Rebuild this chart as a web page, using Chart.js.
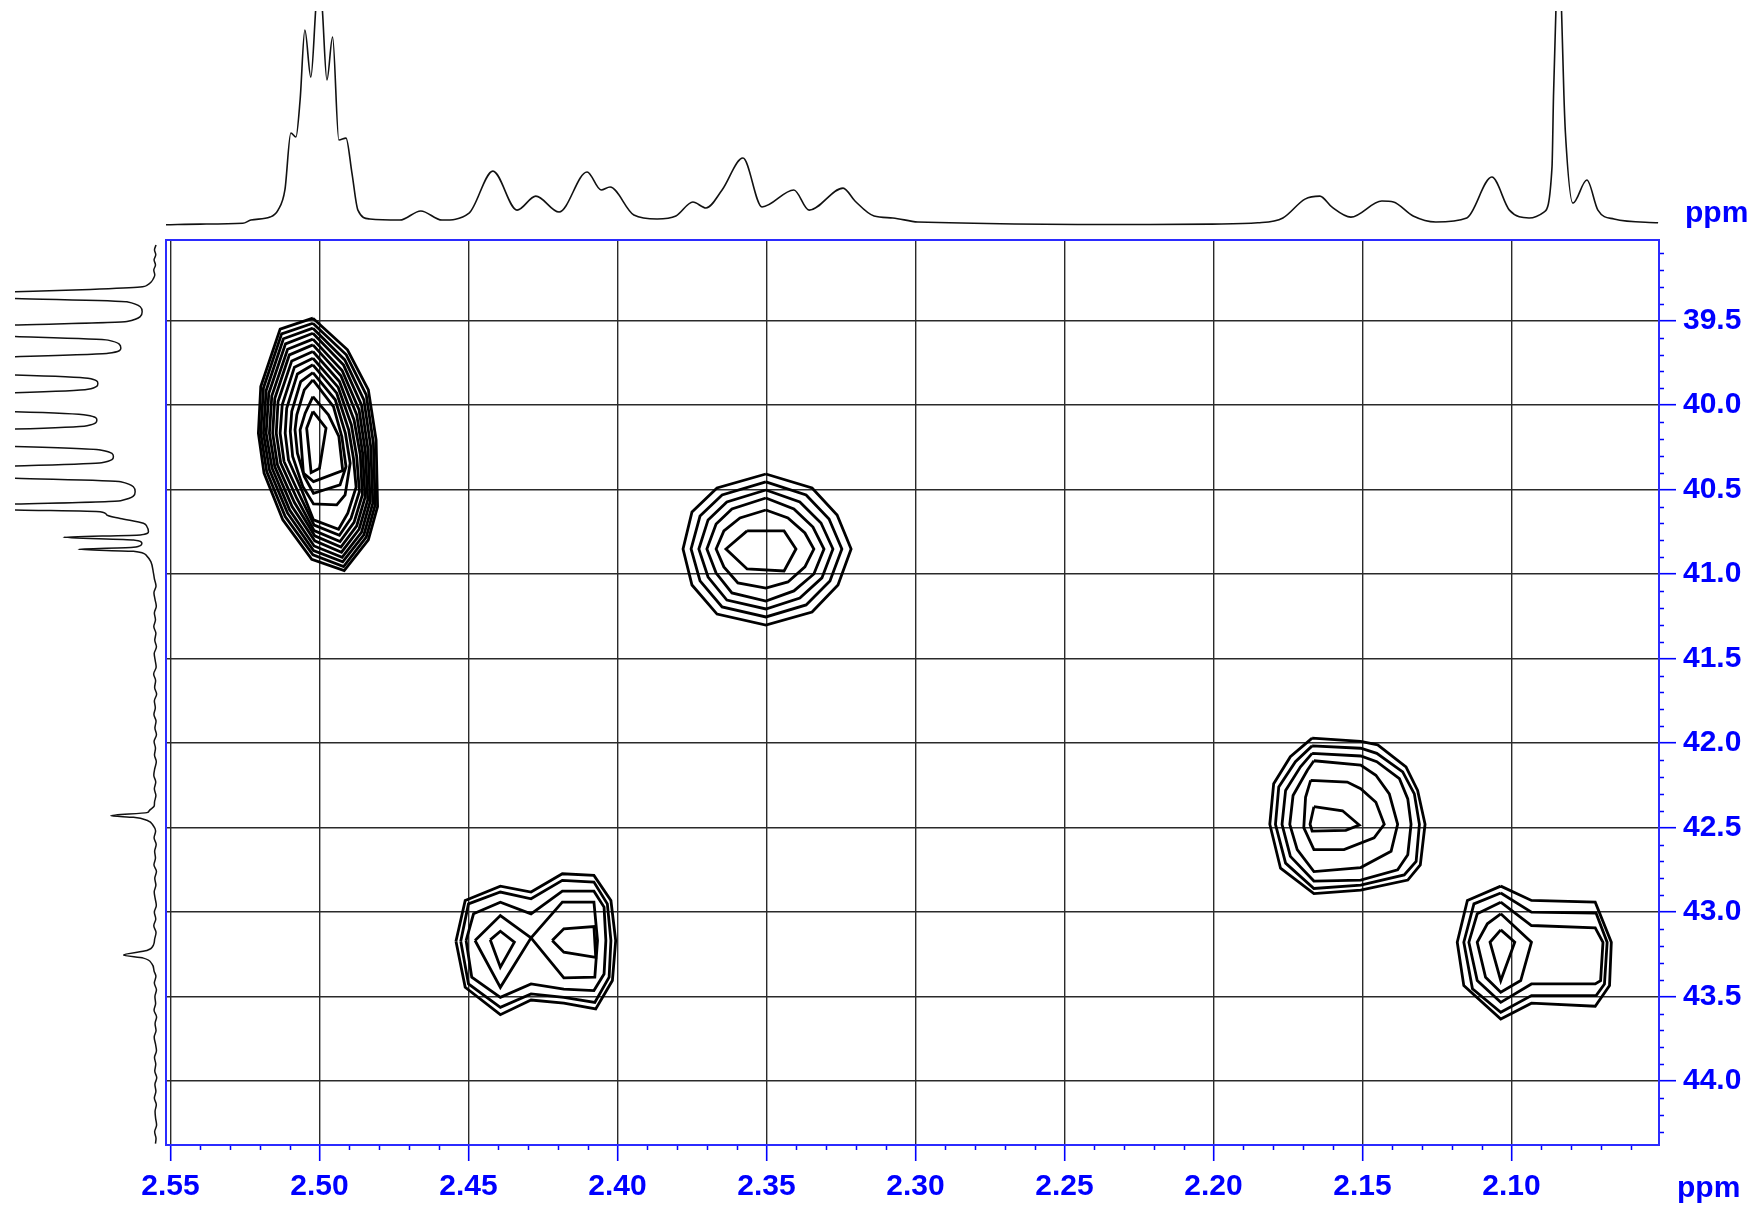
<!DOCTYPE html>
<html>
<head>
<meta charset="utf-8">
<title>HSQC 2.05-2.55 ppm</title>
<script src="https://cdn.jsdelivr.net/npm/chart.js@4.4.1/dist/chart.umd.min.js"></script>
<style>
html,body{margin:0;padding:0;background:#fff;}
#wrap{position:relative;width:1756px;height:1209px;overflow:hidden;}
canvas{position:absolute;left:0;top:0;}
.ppm{position:absolute;font:bold 30px "Liberation Sans",Arial,sans-serif;color:#0000ff;line-height:30px;}
</style>
</head>
<body>
<div id="wrap">
<canvas id="topSpec" width="1756" height="240"></canvas>
<canvas id="leftSpec" width="166" height="1209"></canvas>
<canvas id="main" width="1756" height="1209"></canvas>
<div class="ppm" style="left:1685px;top:197px">ppm</div>
<div class="ppm" style="left:1677px;top:1172px">ppm</div>
</div>
<script>
// axis ranges + ticks
const hMin=2.0505, hMax=2.5515;
const cMin=39.0224, cMax=44.378;
const hTicks=[2.55,2.50,2.45,2.40,2.35,2.30,2.25,2.20,2.15,2.10];
const cTicks=[39.5,40.0,40.5,41.0,41.5,42.0,42.5,43.0,43.5,44.0];

// 1H projection [ppm, intensity]
const protonTrace=[
[2.5515,-0.9],[2.5400,-0.6],[2.5257,-0.2],[2.5230,1.3],[2.5166,2.7],[2.5139,6.0],[2.5116,15.5],
[2.5096,42.4],[2.5079,40.5],[2.5065,58.0],[2.5049,91.0],[2.5029,68.8],[2.5013,100],[2.5002,125],
[2.4990,100],[2.4975,67.4],[2.4956,87.7],[2.4935,39.1],[2.4911,40.0],[2.4891,23.5],[2.4871,6.0],
[2.4831,1.8],[2.4730,1.3],[2.4660,5.6],[2.4589,1.3],[2.4498,4.6],[2.4418,24.4],[2.4337,6.0],
[2.4274,12.6],[2.4196,5.1],[2.4102,24.0],[2.4055,15.5],[2.4025,16.9],[2.3945,3.7],[2.3867,1.8],
[2.3804,3.2],[2.3747,9.8],[2.3703,7.0],[2.3649,15.5],[2.3579,30.6],[2.3515,7.5],[2.3408,15.5],
[2.3357,6.0],[2.3243,16.4],[2.3203,10.3],[2.3139,3.2],[2.3076,2.3],[2.2992,0.4],[2.2213,-0.8],
[2.2005,-0.6],[2.1851,0],[2.1767,2.3],[2.1693,11.2],[2.1643,12.6],[2.1603,7.5],[2.1539,2.7],
[2.1435,10.3],[2.1396,9.8],[2.1330,3.2],[2.1254,0.4],[2.1150,2.3],[2.1066,21.6],[2.1007,6.0],
[2.0941,2.3],[2.0891,5.1],[2.0864,26.4],[2.0859,60],[2.0851,100],[2.0842,160],[2.0832,100],
[2.0824,60],[2.0819,42.4],[2.0794,9.3],[2.0747,20.2],[2.0710,6.0],[2.0656,1.8],[2.0508,0]
];

// 13C projection [ppm, intensity]
const carbonTrace=[
[39.052,-0.6],[39.080,0.5],[39.110,-0.4],[39.140,0.8],[39.170,-0.2],[39.200,1.0],[39.230,0.3],[39.253,1.4],
[39.271,2.9],[39.289,5.7],[39.301,10.7],[39.315,46.4],[39.328,100],[39.348,190],[39.368,100],[39.388,20.2],
[39.447,9.3],[39.505,20.2],[39.525,100],[39.560,260],[39.594,100],[39.615,33.6],[39.663,24.5],[39.693,33.6],
[39.713,100],[39.767,400],[39.821,100],[39.841,48.0],[39.871,40.9],[39.906,48.0],[39.926,100],[39.982,450],
[40.039,100],[40.059,48.6],[40.088,41.6],[40.121,48.6],[40.141,100],[40.193,400],[40.245,100],[40.266,38.2],
[40.305,29.8],[40.340,38.2],[40.360,100],[40.397,260],[40.433,100],[40.453,24.6],[40.512,14.3],[40.565,24.6],
[40.585,100],[40.603,190],[40.620,100],[40.630,39.3],[40.650,34.5],[40.670,25.0],[40.699,8.4],[40.719,5.9],
[40.749,4.8],[40.768,10.7],[40.782,65.5],[40.798,15.5],[40.817,9.5],[40.841,15.5],[40.853,54.8],[40.865,15.5],
[40.893,5.9],[40.926,3.1],[40.995,1.2],
[41.03,0.5],[41.07,-0.6],[41.11,0.9],[41.15,0.1],[41.19,-0.8],[41.23,0.6],[41.27,-0.2],[41.31,1.0],[41.35,-0.5],
[41.39,0.3],[41.43,-0.9],[41.47,0.7],[41.51,0.0],[41.55,-0.7],[41.59,1.1],[41.63,-0.3],[41.67,0.4],[41.71,-1.0],
[41.75,0.6],[41.79,-0.1],[41.83,0.9],[41.87,-0.6],[41.91,0.2],[41.95,-0.9],[41.99,0.8],[42.03,-0.2],[42.07,0.5],
[42.11,-0.8],[42.15,0.3],[42.19,1.0],[42.23,-0.4],[42.27,0.6],[42.31,-0.5],[42.35,0.5],
[42.372,0.7],[42.400,4.3],[42.411,5.9],[42.429,31.6],[42.439,15.5],[42.456,5.9],[42.490,1.2],
[42.52,-0.3],[42.56,0.8],[42.60,-0.7],[42.64,0.4],[42.68,-0.2],[42.72,0.9],[42.76,-0.9],[42.80,0.3],[42.84,-0.5],
[42.88,0.7],[42.92,0.0],[42.96,-0.8],[43.00,0.6],[43.04,-0.4],[43.08,1.0],[43.12,-0.6],[43.16,0.4],
[43.193,1.2],[43.227,5.9],[43.254,22.6],[43.272,8.4],[43.306,2.4],[43.351,0.7],
[43.38,-0.5],[43.42,0.6],[43.46,-0.9],[43.50,0.2],[43.54,-0.3],[43.58,0.8],[43.62,-1.0],[43.66,0.1],[43.70,-0.6],
[43.74,0.7],[43.78,-0.2],[43.82,-0.9],[43.86,0.5],[43.90,-0.4],[43.94,0.3],[43.98,-1.1],[44.02,0.2],[44.06,-0.5],
[44.10,0.6],[44.14,-0.8],[44.18,0.1],[44.22,-0.3],[44.26,-1.0],[44.30,0.4],[44.34,-0.6],[44.370,-0.2]
];

// contour polygons [1H ppm, 13C ppm], outer to inner
const contoursA=[ // 2.50 / 40.2
[[2.5022,39.485],[2.4906,39.672],[2.4836,39.909],[2.4810,40.205],[2.4805,40.600],[2.4836,40.797],[2.4917,40.979],[2.5026,40.912],[2.5123,40.679],[2.5186,40.402],[2.5205,40.166],[2.5197,39.890],[2.5132,39.550]],
[[2.5022,39.515],[2.4910,39.702],[2.4843,39.939],[2.4819,40.225],[2.4813,40.590],[2.4843,40.781],[2.4919,40.955],[2.5022,40.886],[2.5115,40.659],[2.5177,40.393],[2.5197,40.166],[2.5188,39.899],[2.5127,39.578]],
[[2.5022,39.544],[2.4915,39.732],[2.4851,39.968],[2.4828,40.245],[2.4821,40.580],[2.4851,40.768],[2.4922,40.927],[2.5020,40.860],[2.5107,40.639],[2.5168,40.383],[2.5188,40.166],[2.5179,39.913],[2.5121,39.607]],
[[2.5022,39.574],[2.4919,39.763],[2.4859,39.998],[2.4837,40.264],[2.4830,40.570],[2.4859,40.752],[2.4924,40.900],[2.5018,40.833],[2.5100,40.620],[2.5159,40.373],[2.5179,40.166],[2.5170,39.929],[2.5114,39.637]],
[[2.5022,39.609],[2.4924,39.795],[2.4867,40.028],[2.4846,40.274],[2.4838,40.560],[2.4867,40.734],[2.4926,40.870],[2.5016,40.803],[2.5092,40.600],[2.5150,40.363],[2.5168,40.166],[2.5160,39.945],[2.5107,39.669]],
[[2.5022,39.643],[2.4928,39.826],[2.4875,40.057],[2.4855,40.284],[2.4847,40.545],[2.4875,40.714],[2.4928,40.840],[2.5016,40.773],[2.5084,40.576],[2.5141,40.353],[2.5157,40.166],[2.5150,39.961],[2.5101,39.702]],
[[2.5022,39.682],[2.4933,39.860],[2.4884,40.087],[2.4863,40.294],[2.4856,40.531],[2.4884,40.693],[2.4931,40.807],[2.5018,40.742],[2.5076,40.552],[2.5130,40.343],[2.5145,40.166],[2.5139,39.978],[2.5093,39.738]],
[[2.5022,39.722],[2.4937,39.895],[2.4893,40.116],[2.4875,40.304],[2.4866,40.511],[2.4894,40.669],[2.4933,40.770],[2.5018,40.710],[2.5068,40.527],[2.5119,40.333],[2.5132,40.166],[2.5125,39.998],[2.5084,39.775]],
[[2.5022,39.761],[2.4942,39.929],[2.4902,40.146],[2.4886,40.314],[2.4877,40.485],[2.4905,40.639],[2.4936,40.734],[2.5020,40.679],[2.5060,40.501],[2.5104,40.324],[2.5115,40.166],[2.5110,40.018],[2.5074,39.815]],
[[2.5022,39.807],[2.4947,39.968],[2.4913,40.166],[2.4897,40.343],[2.4914,40.531],[2.4942,40.590],[2.5020,40.584],[2.5056,40.481],[2.5090,40.304],[2.5098,40.156],[2.5093,40.037],[2.5063,39.860]],
[[2.5022,39.850],[2.4953,40.008],[2.4925,40.185],[2.4911,40.363],[2.4931,40.472],[2.5020,40.521],[2.5051,40.422],[2.5074,40.284],[2.5082,40.146],[2.5076,40.057],[2.5051,39.909]],
[[2.5022,39.949],[2.4970,40.057],[2.4935,40.185],[2.4922,40.387],[2.5020,40.452],[2.5054,40.402],[2.5065,40.146],[2.5048,40.047]],
[[2.5022,40.037],[2.4978,40.136],[2.5000,40.373],[2.5028,40.399],[2.5043,40.136]]
];
const contoursB=[ // 2.35 / 40.85
[[2.3502,40.407],[2.3347,40.490],[2.3263,40.650],[2.3216,40.851],[2.3260,41.064],[2.3347,41.224],[2.3502,41.301],[2.3666,41.236],[2.3750,41.064],[2.3780,40.851],[2.3750,40.632],[2.3666,40.490]],
[[2.3502,40.454],[2.3367,40.531],[2.3290,40.673],[2.3247,40.851],[2.3287,41.040],[2.3367,41.182],[2.3502,41.253],[2.3649,41.194],[2.3723,41.040],[2.3753,40.851],[2.3723,40.656],[2.3649,40.531]],
[[2.3502,40.502],[2.3388,40.573],[2.3317,40.697],[2.3277,40.851],[2.3314,41.022],[2.3388,41.141],[2.3502,41.206],[2.3633,41.153],[2.3696,41.017],[2.3727,40.851],[2.3696,40.679],[2.3633,40.573]],
[[2.3502,40.549],[2.3408,40.614],[2.3344,40.721],[2.3307,40.851],[2.3341,40.999],[2.3408,41.099],[2.3502,41.159],[2.3616,41.111],[2.3669,40.993],[2.3700,40.851],[2.3669,40.703],[2.3616,40.614]],
[[2.3502,40.620],[2.3428,40.667],[2.3371,40.756],[2.3341,40.851],[2.3371,40.957],[2.3428,41.046],[2.3502,41.082],[2.3596,41.052],[2.3643,40.957],[2.3669,40.851],[2.3643,40.744],[2.3589,40.667]],
[[2.3565,40.744],[2.3441,40.744],[2.3401,40.851],[2.3441,40.981],[2.3565,40.969],[2.3636,40.851]]
];
const contoursC=[ // 2.43 / 43.2
[[2.4542,43.172],[2.4511,42.931],[2.4393,42.846],[2.4290,42.881],[2.4185,42.773],[2.4079,42.783],[2.4022,42.931],[2.4006,43.168],[2.4017,43.405],[2.4073,43.573],[2.4180,43.539],[2.4290,43.520],[2.4393,43.607],[2.4511,43.445]],
[[2.4526,43.172],[2.4500,42.951],[2.4393,42.881],[2.4290,42.921],[2.4185,42.812],[2.4079,42.822],[2.4034,42.951],[2.4022,43.168],[2.4028,43.385],[2.4076,43.534],[2.4180,43.504],[2.4290,43.484],[2.4393,43.563],[2.4500,43.425]],
[[2.4508,43.168],[2.4483,43.010],[2.4393,42.941],[2.4290,43.010],[2.4185,42.876],[2.4079,42.876],[2.4045,42.970],[2.4039,43.168],[2.4045,43.366],[2.4079,43.464],[2.4180,43.455],[2.4290,43.425],[2.4393,43.504],[2.4489,43.385]],
[[2.4478,43.168],[2.4393,43.020],[2.4290,43.152],[2.4185,42.941],[2.4079,42.941],[2.4067,43.168],[2.4076,43.385],[2.4180,43.389],[2.4290,43.152],[2.4393,43.445]],
[[2.4427,43.164],[2.4393,43.113],[2.4346,43.178],[2.4393,43.326]],
[[2.4219,43.168],[2.4180,43.099],[2.4079,43.085],[2.4073,43.267],[2.4180,43.237]]
];
const contoursD=[ // 2.16 / 42.45
[[2.1669,41.970],[2.1506,41.990],[2.1449,42.010],[2.1354,42.140],[2.1315,42.280],[2.1290,42.480],[2.1306,42.720],[2.1348,42.810],[2.1506,42.870],[2.1663,42.890],[2.1775,42.740],[2.1811,42.480],[2.1798,42.240],[2.1742,42.080]],
[[2.1669,42.016],[2.1506,42.030],[2.1452,42.060],[2.1365,42.170],[2.1326,42.300],[2.1309,42.480],[2.1320,42.700],[2.1360,42.780],[2.1506,42.840],[2.1663,42.860],[2.1758,42.710],[2.1792,42.480],[2.1781,42.260],[2.1725,42.110]],
[[2.1669,42.060],[2.1506,42.076],[2.1452,42.110],[2.1376,42.210],[2.1348,42.330],[2.1337,42.480],[2.1348,42.660],[2.1382,42.750],[2.1506,42.810],[2.1663,42.816],[2.1742,42.670],[2.1770,42.480],[2.1758,42.280],[2.1708,42.140]],
[[2.1663,42.104],[2.1506,42.130],[2.1455,42.190],[2.1410,42.300],[2.1382,42.480],[2.1404,42.640],[2.1506,42.736],[2.1663,42.760],[2.1719,42.630],[2.1744,42.480],[2.1733,42.310],[2.1685,42.160]],
[[2.1674,42.220],[2.1551,42.230],[2.1506,42.270],[2.1455,42.350],[2.1427,42.480],[2.1461,42.560],[2.1562,42.630],[2.1663,42.630],[2.1697,42.500],[2.1691,42.320]],
[[2.1663,42.376],[2.1567,42.400],[2.1511,42.484],[2.1556,42.516],[2.1669,42.520],[2.1676,42.480]]
];
const contoursE=[ // 2.10 / 43.2
[[2.1036,42.846],[2.0933,42.931],[2.0719,42.941],[2.0665,43.178],[2.0671,43.435],[2.0719,43.557],[2.0933,43.539],[2.1036,43.632],[2.1160,43.435],[2.1182,43.178],[2.1148,42.931]],
[[2.1036,42.887],[2.0933,43.000],[2.0716,43.006],[2.0679,43.178],[2.0688,43.425],[2.0716,43.494],[2.0933,43.494],[2.1036,43.593],[2.1131,43.454],[2.1160,43.178],[2.1126,42.951]],
[[2.1036,42.941],[2.0933,43.079],[2.0719,43.093],[2.0693,43.178],[2.0701,43.405],[2.0719,43.425],[2.0933,43.425],[2.1036,43.534],[2.1115,43.405],[2.1143,43.178],[2.1115,43.010]],
[[2.1036,43.010],[2.0933,43.178],[2.0969,43.405],[2.1036,43.474],[2.1087,43.385],[2.1115,43.178],[2.1081,43.069]],
[[2.1036,43.105],[2.0989,43.178],[2.1036,43.405],[2.1072,43.178]]
];

const fontFam='"Liberation Sans", Arial, sans-serif';
const blue='#0000ff';

// contour datasets, each polygon closed on itself
const contourSets=[...contoursA,...contoursB,...contoursC,...contoursD,...contoursE].map(poly=>({
data:poly.concat([poly[0]]).map(p=>({x:p[0],y:p[1]})),
showLine:true,
borderColor:'#000',
borderWidth:2.8,
pointRadius:0,
tension:0,
fill:false
}));

// frame + minor ticks
const framePlugin={
id:'frame',
afterDraw(chart){
const {ctx,chartArea:a,scales:{x,y}}=chart;
ctx.save();
ctx.strokeStyle=blue;
ctx.lineWidth=1.5;
ctx.beginPath();
for(let i=206;i<=255;i++){
if(i%5===0) continue;
const px=Math.round(x.getPixelForValue(i/100))+0.5;
if(px<a.left||px>a.right) continue;
ctx.moveTo(px,a.bottom);
ctx.lineTo(px,a.bottom+5);
}
for(let i=391;i<=443;i++){
if(i%5===0) continue;
const py=Math.round(y.getPixelForValue(i/10))+0.5;
if(py<a.top||py>a.bottom) continue;
ctx.moveTo(a.right,py);
ctx.lineTo(a.right+5,py);
}
ctx.stroke();
ctx.strokeStyle='#2b2bff';
ctx.lineWidth=2;
ctx.strokeRect(a.left,a.top,a.right-a.left,a.bottom-a.top);
ctx.restore();
}
};

new Chart(document.getElementById('main'),{
type:'scatter',
data:{datasets:contourSets},
options:{
responsive:false,
animation:false,
events:[],
layout:{padding:{left:166,top:240,right:0,bottom:0}},
plugins:{legend:{display:false},tooltip:{enabled:false}},
scales:{
x:{
type:'linear',position:'bottom',reverse:true,min:hMin,max:hMax,
afterBuildTicks:s=>{s.ticks=hTicks.map(v=>({value:v}));},
afterFit:s=>{s.height=64;},
ticks:{autoSkip:false,maxRotation:0,minRotation:0,padding:8,color:blue,
font:{family:fontFam,size:30,weight:'bold'},callback:v=>v.toFixed(2)},
grid:{color:'#2a2a2a',lineWidth:1.4,tickLength:16,tickColor:blue,tickWidth:1.6},
border:{display:true,color:'#2b2bff',width:2}
},
y:{
type:'linear',position:'right',reverse:true,min:cMin,max:cMax,
afterBuildTicks:s=>{s.ticks=cTicks.map(v=>({value:v}));},
afterFit:s=>{s.width=97;},
ticks:{autoSkip:false,padding:7,color:blue,
font:{family:fontFam,size:30,weight:'bold'},callback:v=>v.toFixed(1)},
grid:{color:'#2a2a2a',lineWidth:1.4,tickLength:17,tickColor:blue,tickWidth:1.6},
border:{display:true,color:'#2b2bff',width:2}
}
}
},
plugins:[framePlugin]
});

// 1H projection on top
new Chart(document.getElementById('topSpec'),{
type:'line',
data:{datasets:[{
data:protonTrace.map(p=>({x:p[0],y:p[1]})),
borderColor:'#111',borderWidth:1.6,pointRadius:0,
cubicInterpolationMode:'monotone',fill:false
}]},
options:{
responsive:false,animation:false,events:[],
layout:{padding:{left:166,right:97,top:11,bottom:14}},
plugins:{legend:{display:false},tooltip:{enabled:false}},
scales:{
x:{type:'linear',display:false,reverse:true,min:hMin,max:hMax},
y:{type:'linear',display:false,min:-1.5,max:100}
}
}
});

// 13C projection on the left
new Chart(document.getElementById('leftSpec'),{
type:'line',
data:{datasets:[{
data:carbonTrace.map(p=>({x:p[1],y:p[0]})),
borderColor:'#111',borderWidth:1.5,pointRadius:0,
cubicInterpolationMode:'monotone',fill:false
}]},
options:{
indexAxis:'y',
responsive:false,animation:false,events:[],
layout:{padding:{left:15,right:8,top:240,bottom:64}},
plugins:{legend:{display:false},tooltip:{enabled:false}},
scales:{
x:{type:'linear',display:false,reverse:true,min:-2,max:100},
y:{type:'linear',display:false,reverse:true,min:cMin,max:cMax}
}
}
});
</script>
</body>
</html>
